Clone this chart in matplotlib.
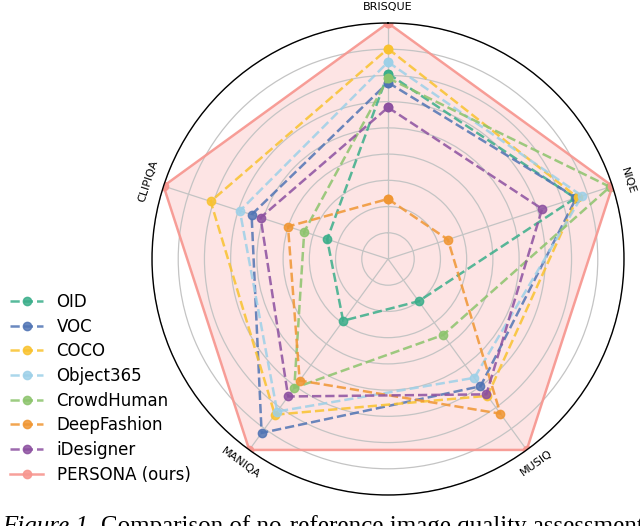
import numpy as np
import matplotlib
matplotlib.use('Agg')
import matplotlib.pyplot as plt
from matplotlib.colors import to_rgba

# metrics, clockwise from top
metrics = ['BRISQUE', 'NIQE', 'MUSIQ', 'MANIQA', 'CLIPIQA']

# normalised scores (outer ring = 9)
oid = [7.07, 7.51, 1.99, 2.91, 2.44]
voc = [6.73, 7.55, 6.00, 8.20, 5.47]
coco = [8.02, 7.60, 6.45, 7.34, 7.11]
object365 = [7.51, 7.78, 5.60, 7.19, 5.94]
crowdhuman = [6.90, 8.90, 3.58, 6.08, 3.36]
deepfashion = [2.29, 2.40, 7.29, 5.73, 4.01]
idesigner = [5.78, 6.18, 6.38, 6.48, 5.11]
persona = [9.0, 9.0, 9.0, 9.0, 9.0]

names = ['OID', 'VOC', 'COCO', 'Object365', 'CrowdHuman', 'DeepFashion', 'iDesigner']
series = [oid, voc, coco, object365, crowdhuman, deepfashion, idesigner]
colors = ['#3aae8a', '#5074b4', '#f9c22e', '#9dd0e8', '#8cc46c', '#f09632', '#8c50a0']

angles = np.linspace(0, 2 * np.pi, len(metrics), endpoint=False)
angles_c = np.concatenate([angles, angles[:1]])

fig = plt.figure(figsize=(6.4, 5.26), dpi=100)
ax = fig.add_axes([(388 - 236) / 640, (526 - 259 - 236) / 526, 472 / 640, 472 / 526],
                  projection='polar')
ax.set_theta_offset(np.pi / 2)
ax.set_theta_direction(-1)

for name, vals, c in zip(names, series, colors):
    v = vals + vals[:1]
    ax.plot(angles_c, v, linestyle='--', color=c, lw=1.8, marker='o', markersize=6,
            markerfacecolor=to_rgba(c, 0.25), markeredgecolor=c, markeredgewidth=1.0,
            alpha=0.85, label=name)

pv = persona + persona[:1]
ax.plot(angles_c, pv, linestyle='-', color='#f7968f', lw=1.8, marker='o', markersize=6,
        markerfacecolor=to_rgba('#f7968f', 0.25), markeredgewidth=1.0,
        alpha=0.9, label='PERSONA (ours)')
ax.fill(angles_c, pv, color='#fbb4b4', alpha=0.35, zorder=0)

ax.set_ylim(0, 9)
ax.set_yticks(np.arange(1, 10))
ax.set_yticklabels([])
ax.set_xticks(angles)
ax.set_xticklabels([])
ax.grid(color='#c4c4c4', lw=0.9)
ax.spines['polar'].set_color('black')
ax.spines['polar'].set_linewidth(1.0)

# tangential metric labels
for ang, lab in zip(angles, metrics):
    deg = 90 - np.degrees(ang)
    rot = deg - 90 if np.sin(np.radians(deg)) >= -0.01 else deg - 270
    if abs(rot) > 180:
        rot = rot % 360
    ax.text(ang, 9.6, lab, rotation=rot, ha='center', va='center',
            rotation_mode='anchor', fontsize=8)

fig.legend(loc='center left', bbox_to_anchor=(-0.008, 0.262), frameon=False,
           fontsize=12, labelspacing=0.4, handlelength=2.0, handletextpad=0.8)

# caption (cut off at the bottom edge, as in the source)
cap_y = -0.0137
t1 = fig.text(0.003, cap_y, 'Figure 1.', fontsize=18, family='Liberation Serif',
              style='italic', va='baseline')
renderer = fig.canvas.get_renderer()
x_end = t1.get_window_extent(renderer).x1 / fig.bbox.width
fig.text(x_end + 0.011, cap_y, 'Comparison of no-reference image quality assessment',
         fontsize=18, family='Liberation Serif', va='baseline')

fig.savefig('out.png', dpi=100)
